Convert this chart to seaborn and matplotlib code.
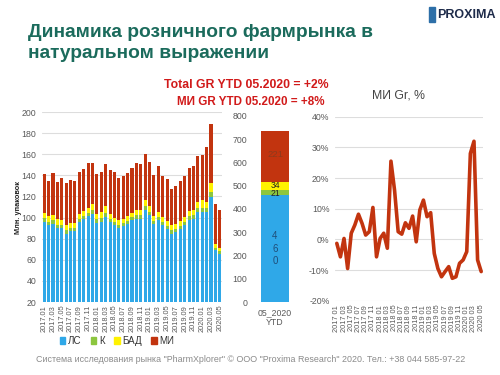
import numpy as np
import pandas as pd
import matplotlib
matplotlib.use("Agg")
import matplotlib.pyplot as plt
from matplotlib.patches import Patch, Rectangle
import seaborn as sns

sns.set_theme(style="white")
plt.rcParams['font.family'] = ['Liberation Sans', 'DejaVu Sans']

# ---------------- data ----------------
months = [f"{y}.{m:02d}" for y in (2017, 2018, 2019) for m in range(1, 13)] + \
         [f"2020.{m:02d}" for m in range(1, 6)]

ls = [96.0, 92.7, 94.3, 90.1, 90.1, 84.8, 87.0, 87.0, 95.8, 99.0, 101.2, 103.1,
      95.2, 95.8, 100.5, 95.8, 93.3, 90.1, 92.0, 94.3, 97.4, 99.0, 99.0, 107.6,
      102.1, 94.3, 97.4, 92.7, 89.5, 84.8, 86.3, 89.5, 93.3, 98.0, 99.0, 105.4,
      105.4, 105.4, 119.2, 69.0, 65.8]
k = [3.2, 3.2, 3.2, 3.1, 3.0, 3.0, 3.0, 3.0, 2.8, 2.8, 3.1, 3.8,
     3.2, 3.6, 3.8, 2.8, 2.6, 2.8, 2.6, 2.6, 2.7, 3.2, 3.0, 3.4,
     3.3, 2.6, 3.0, 3.0, 2.8, 3.0, 3.0, 2.8, 2.8, 3.2, 3.3, 3.5,
     4.0, 3.6, 4.8, 2.4, 2.2]
bad = [5.2, 5.6, 5.3, 5.2, 4.9, 4.9, 4.9, 4.9, 4.5, 4.5, 5.2, 6.4,
       5.3, 6.0, 6.5, 4.5, 4.1, 4.5, 4.4, 4.3, 4.3, 5.4, 4.9, 5.4,
       5.4, 4.3, 5.0, 4.8, 4.5, 4.9, 5.0, 4.5, 4.4, 5.1, 5.3, 5.9,
       7.0, 5.8, 8.5, 4.0, 3.5]
mi = [36.7, 33.0, 39.6, 35.4, 39.0, 40.2, 40.5, 39.3, 39.9, 39.6, 42.1, 38.3,
      37.4, 37.3, 39.8, 41.8, 43.0, 39.6, 40.2, 40.9, 42.7, 43.7, 43.4, 44.0,
      41.8, 39.0, 43.3, 38.7, 39.3, 34.5, 35.4, 37.4, 38.7, 40.5, 41.1, 43.1,
      43.0, 52.0, 56.1, 37.2, 36.1]

ytd_label = "05_2020\nYTD"
ytd_ls, ytd_k, ytd_bad, ytd_mi = 460, 21, 34, 221

gr_months = [m.replace(".", " ") for m in months]
mi_gr = [-1.3, -5.7, 0.3, -9.5, 2.0, 4.7, 8.2, 5.2, 1.4, 2.5, 10.4, -5.7,
         0.3, 2.0, -2.9, 25.5, 16.0, 2.5, 1.7, 5.4, 3.6, 7.6, -0.8, 9.6,
         12.8, 7.4, 8.7, -4.6, -9.5, -12.2, -10.5, -8.9, -12.7, -12.2, -7.8, -6.7,
         -4.0, 28.0, 32.0, -6.7, -10.5]

# ---------------- style ----------------
C_LS, C_K, C_BAD, C_MI = "#2fa8e8", "#8cc63f", "#fff200", "#c2340f"
GRAY = "#595959"
GRID = "#dddddd"

W, H = 500, 375
fig = plt.figure(figsize=(5, 3.75), dpi=100)

def ax_px(x0, y0, x1, y1):
    return fig.add_axes([x0 / W, 1 - y1 / H, (x1 - x0) / W, (y1 - y0) / H])

# ---------------- left stacked chart ----------------
df = pd.DataFrame({"month": months, "ls": ls, "k": k, "bad": bad, "mi": mi})
df["c1"] = df["ls"]
df["c2"] = df["c1"] + df["k"]
df["c3"] = df["c2"] + df["bad"]
df["c4"] = df["c3"] + df["mi"]

ax1 = ax_px(42, 112, 222, 302)
for col, colr in (("c4", C_MI), ("c3", C_BAD), ("c2", C_K), ("c1", C_LS)):
    sns.barplot(data=df, x="month", y=col, color=colr, width=0.7, ax=ax1,
                saturation=1, edgecolor="none", order=months)
ax1.set_ylim(20, 200)
ax1.set_xlim(-0.5, len(months) - 0.5)
ax1.set_yticks(range(20, 201, 20))
ax1.yaxis.grid(True, color=GRID, lw=0.8)
ax1.set_axisbelow(True)
ax1.set_xticks(range(0, len(months), 2))
ax1.set_xticklabels(months[::2], rotation=90, fontsize=5.3, color=GRAY)
ax1.tick_params(axis="y", labelsize=6.3, colors=GRAY, length=0, pad=4)
ax1.tick_params(axis="x", length=0, pad=2)
ax1.set_xlabel("")
ax1.set_ylabel("")
for s in ax1.spines.values():
    s.set_visible(False)
fig.text(18 / W, 1 - 207 / H, "Млн. упаковок", rotation=90, fontsize=5.3,
         fontweight="bold", color="#222222", ha="center", va="center")

handles = [Patch(color=C_LS), Patch(color=C_K), Patch(color=C_BAD), Patch(color=C_MI)]
fig.legend(handles, ["ЛС", "К", "БАД", "МИ"], loc="center", ncol=4,
           bbox_to_anchor=(117 / W, 1 - 341 / H), frameon=False, fontsize=7,
           handlelength=0.6, handleheight=0.6, handletextpad=0.3, columnspacing=0.9,
           labelcolor="#333333")

# ---------------- middle YTD bar ----------------
dfm = pd.DataFrame({"p": [ytd_label], "c1": [ytd_ls],
                    "c2": [ytd_ls + ytd_k], "c3": [ytd_ls + ytd_k + ytd_bad],
                    "c4": [ytd_ls + ytd_k + ytd_bad + ytd_mi]})
ax2 = ax_px(253, 115.7, 297, 302.3)
for col, colr in (("c4", C_MI), ("c3", C_BAD), ("c2", C_K), ("c1", C_LS)):
    sns.barplot(data=dfm, x="p", y=col, color=colr, width=0.64, ax=ax2,
                saturation=1, edgecolor="none")
ax2.set_ylim(0, 800)
ax2.set_xlim(-0.5, 0.5)
ax2.set_yticks(range(0, 801, 100))
ax2.tick_params(axis="y", labelsize=6.3, colors=GRAY, length=0, pad=4)
ax2.tick_params(axis="x", labelsize=6.3, colors=GRAY, length=0, pad=4)
ax2.set_xlabel("")
ax2.set_ylabel("")
for s in ax2.spines.values():
    s.set_visible(False)
ax2.text(0, ytd_ls / 2, "4\n6\n0", ha="center", va="center", fontsize=7,
         color="#1f4e79", linespacing=1.35)
ax2.text(0, ytd_ls + ytd_k / 2 - 3, str(ytd_k), ha="center", va="center",
         fontsize=6.2, color="#222222")
ax2.text(0, ytd_ls + ytd_k + ytd_bad / 2 + 4, str(ytd_bad), ha="center", va="center",
         fontsize=6.2, color="#222222")
ax2.text(0, ytd_ls + ytd_k + ytd_bad + ytd_mi / 2 + 10, str(ytd_mi), ha="center",
         va="center", fontsize=6.8, color="#8e3a1c")

# ---------------- right line chart ----------------
dfg = pd.DataFrame({"x": range(len(mi_gr)), "g": np.array(mi_gr) / 100})
ax3 = ax_px(335, 116.7, 483, 300.7)
sns.lineplot(data=dfg, x="x", y="g", color=C_MI, lw=2.6, ax=ax3)
ax3.set_ylim(-0.2, 0.4)
ax3.set_xlim(-0.5, len(mi_gr) - 0.5)
ax3.set_yticks(np.arange(-0.2, 0.41, 0.1))
ax3.set_yticklabels([f"{v}%" for v in range(-20, 41, 10)])
ax3.yaxis.grid(True, color=GRID, lw=0.8)
ax3.set_axisbelow(True)
ax3.set_xticks(range(0, len(mi_gr), 2))
ax3.set_xticklabels(gr_months[::2], rotation=90, fontsize=5.3, color=GRAY)
ax3.tick_params(axis="y", labelsize=6.3, colors=GRAY, length=0, pad=4)
ax3.tick_params(axis="x", length=0, pad=3)
ax3.set_xlabel("")
ax3.set_ylabel("")
for s in ax3.spines.values():
    s.set_visible(False)

# ---------------- texts ----------------
fig.text(28 / W, 1 - 43 / H, "Динамика розничного фармрынка в\nнатуральном выражении",
         fontsize=13.8, fontweight="bold", color="#1b6b5c", ha="left", va="center",
         linespacing=1.3)
fig.text(246 / W, 1 - 85 / H, "Total GR YTD 05.2020 = +2%", fontsize=8.8,
         fontweight="bold", color="#d11a1a", ha="center", va="center")
fig.text(251 / W, 1 - 102 / H, "МИ GR YTD 05.2020 = +8%", fontsize=8.4,
         fontweight="bold", color="#d11a1a", ha="center", va="center")
fig.text(399 / W, 1 - 95 / H, "МИ Gr, %", fontsize=8.8, color="#444444",
         ha="center", va="center")
fig.text(251 / W, 1 - 360 / H,
         "Система исследования рынка \"PharmXplorer\" © ООО \"Proxima Research\" 2020. Тел.: +38 044 585-97-22",
         fontsize=6.4, color="#8a8a8a", ha="center", va="center")

# logo
fig.patches.append(Rectangle((429 / W, 1 - 22 / H), 6 / W, 15 / H,
                             transform=fig.transFigure, color="#2d6fa8"))
fig.text(437 / W, 1 - 14.5 / H, "PROXIMA", fontsize=9, fontweight="bold",
         color="#1e2b4a", ha="left", va="center")

fig.savefig("out.png", dpi=100)
